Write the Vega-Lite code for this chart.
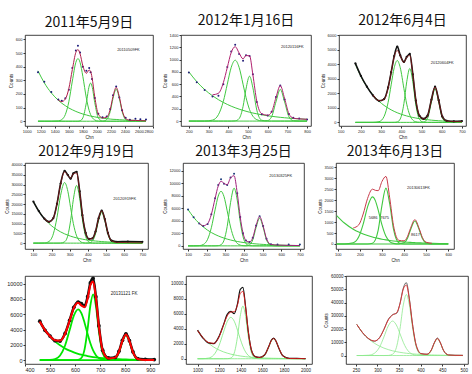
{
"$schema": "https://vega.github.io/schema/vega-lite/v6.json",
"background": "white",
"padding": {"left": 3, "top": 13, "right": 2, "bottom": 0},
"config": {
  "view": {"stroke": "#111", "strokeWidth": 0.8},
  "numberFormat": "d",
  "axis": {"grid": false, "domain": false, "labelFontSize": 4, "titleFontSize": 4.5, "tickSize": 2, "tickColor": "#333", "labelPadding": 1, "titlePadding": 1.5, "labelColor": "#222", "titleColor": "#222", "titleFontWeight": "normal", "labelFont": "Liberation Sans", "titleFont": "Liberation Sans", "labelOverlap": false},
  "title": {"fontSize": 14, "font": "Noto Sans CJK SC", "fontWeight": "normal", "offset": 5, "color": "#111"},
  "text": {"font": "Liberation Sans"}
},
"datasets": {
"p1": [
{"x":1160,"bg":370,"a":0,"b":0,"c":0,"f":null,"o":360},
{"x":1250,"bg":282,"a":0,"b":0,"c":0,"f":null,"o":290},
{"x":1350,"bg":208,"a":0,"b":0,"c":0,"f":null,"o":215},
{"x":1450,"bg":154,"a":2,"b":0,"c":0,"f":156,"o":160},
{"x":1500,"bg":132,"a":12,"b":0,"c":0,"f":144,"o":150},
{"x":1550,"bg":114,"a":49,"b":0,"c":0,"f":163,"o":168},
{"x":1600,"bg":97,"a":143,"b":0,"c":0,"f":240,"o":232},
{"x":1650,"bg":84,"a":295,"b":0,"c":0,"f":379,"o":390},
{"x":1700,"bg":72,"a":432,"b":0,"c":0,"f":505,"o":520},
{"x":1730,"bg":66,"a":460,"b":0,"c":0,"f":526,"o":555},
{"x":1760,"bg":60,"a":432,"b":3,"c":0,"f":495,"o":505},
{"x":1800,"bg":53,"a":328,"b":25,"c":0,"f":406,"o":400},
{"x":1850,"bg":46,"a":170,"b":136,"c":0,"f":352,"o":370},
{"x":1890,"bg":40,"a":78,"b":258,"c":0,"f":376,"o":390},
{"x":1910,"bg":38,"a":49,"b":280,"c":0,"f":367,"o":360},
{"x":1930,"bg":36,"a":29,"b":258,"c":0,"f":323,"o":310},
{"x":1970,"bg":32,"a":9,"b":136,"c":0,"f":177,"o":170},
{"x":2020,"bg":27,"a":1,"b":25,"c":0,"f":53,"o":55},
{"x":2080,"bg":23,"a":0,"b":1,"c":0,"f":24,"o":30},
{"x":2140,"bg":19,"a":0,"b":0,"c":12,"f":31,"o":35},
{"x":2190,"bg":16,"a":0,"b":0,"c":71,"f":87,"o":90},
{"x":2230,"bg":14,"a":0,"b":0,"c":168,"f":182,"o":190},
{"x":2275,"bg":13,"a":0,"b":0,"c":235,"f":248,"o":255},
{"x":2320,"bg":11,"a":0,"b":0,"c":168,"f":179,"o":175},
{"x":2360,"bg":10,"a":0,"b":0,"c":71,"f":81,"o":80},
{"x":2410,"bg":8,"a":0,"b":0,"c":12,"f":20,"o":25},
{"x":2470,"bg":7,"a":0,"b":0,"c":0,"f":7,"o":10},
{"x":2550,"bg":6,"a":0,"b":0,"c":0,"f":6,"o":18},
{"x":2620,"bg":4,"a":0,"b":0,"c":0,"f":4,"o":15},
{"x":2700,"bg":3,"a":0,"b":0,"c":0,"f":3,"o":12}
],
"p2": [
{"x":200,"bg":800,"a":0,"b":0,"c":0,"f":null,"o":790},
{"x":240,"bg":641,"a":0,"b":0,"c":0,"f":null,"o":630},
{"x":280,"bg":513,"a":0,"b":0,"c":0,"f":null,"o":505},
{"x":320,"bg":411,"a":16,"b":0,"c":0,"f":427,"o":400},
{"x":350,"bg":348,"a":104,"b":0,"c":0,"f":452,"o":410},
{"x":375,"bg":303,"a":321,"b":0,"c":0,"f":624,"o":600},
{"x":395,"bg":271,"a":600,"b":0,"c":0,"f":871,"o":880},
{"x":415,"bg":242,"a":874,"b":0,"c":0,"f":1116,"o":1130},
{"x":435,"bg":217,"a":990,"b":3,"c":0,"f":1210,"o":1240},
{"x":455,"bg":194,"a":874,"b":40,"c":0,"f":1108,"o":1090},
{"x":475,"bg":174,"a":600,"b":237,"c":0,"f":1011,"o":980},
{"x":490,"bg":160,"a":385,"b":522,"c":0,"f":1067,"o":1070},
{"x":508,"bg":144,"a":187,"b":730,"c":0,"f":1061,"o":1060},
{"x":525,"bg":131,"a":79,"b":541,"c":0,"f":751,"o":760},
{"x":545,"bg":118,"a":23,"b":177,"c":0,"f":318,"o":310},
{"x":570,"bg":102,"a":3,"b":14,"c":0,"f":119,"o":110},
{"x":600,"bg":87,"a":0,"b":0,"c":8,"f":95,"o":90},
{"x":620,"bg":78,"a":0,"b":0,"c":70,"f":148,"o":150},
{"x":642,"bg":69,"a":0,"b":0,"c":312,"f":381,"o":390},
{"x":664,"bg":61,"a":0,"b":0,"c":515,"f":576,"o":580},
{"x":686,"bg":54,"a":0,"b":0,"c":312,"f":366,"o":350},
{"x":708,"bg":48,"a":0,"b":0,"c":70,"f":118,"o":115},
{"x":730,"bg":42,"a":0,"b":0,"c":6,"f":48,"o":55},
{"x":760,"bg":36,"a":0,"b":0,"c":0,"f":36,"o":40},
{"x":800,"bg":29,"a":0,"b":0,"c":0,"f":29,"o":25}
],
"p3": [
{"x":173,"bg":4000,"a":0,"b":0,"c":0,"f":null,"o":4050},
{"x":200,"bg":3163,"a":0,"b":0,"c":0,"f":null,"o":3200},
{"x":230,"bg":2438,"a":0,"b":0,"c":0,"f":null,"o":2450},
{"x":260,"bg":1876,"a":1,"b":0,"c":0,"f":1877,"o":1850},
{"x":290,"bg":1446,"a":47,"b":0,"c":0,"f":1493,"o":1480},
{"x":315,"bg":1164,"a":407,"b":0,"c":0,"f":1571,"o":1600},
{"x":335,"bg":978,"a":1380,"b":0,"c":0,"f":2358,"o":2400},
{"x":350,"bg":858,"a":2578,"b":0,"c":0,"f":3436,"o":3450},
{"x":365,"bg":753,"a":3751,"b":2,"c":0,"f":4506,"o":4550},
{"x":380,"bg":661,"a":4250,"b":30,"c":0,"f":4941,"o":5200},
{"x":395,"bg":580,"a":3751,"b":234,"c":0,"f":4565,"o":4600},
{"x":413,"bg":496,"a":2320,"b":1294,"c":0,"f":4110,"o":4150},
{"x":427,"bg":439,"a":1246,"b":2793,"c":0,"f":4478,"o":4500},
{"x":442,"bg":386,"a":502,"b":3700,"c":0,"f":4588,"o":4700},
{"x":457,"bg":338,"a":157,"b":2793,"c":0,"f":3288,"o":3300},
{"x":472,"bg":297,"a":38,"b":1201,"c":0,"f":1536,"o":1500},
{"x":490,"bg":254,"a":5,"b":208,"c":0,"f":467,"o":450},
{"x":510,"bg":213,"a":0,"b":11,"c":15,"f":239,"o":240},
{"x":530,"bg":180,"a":0,"b":0,"c":278,"f":458,"o":470},
{"x":549,"bg":152,"a":0,"b":0,"c":1395,"f":1547,"o":1560},
{"x":567,"bg":130,"a":0,"b":0,"c":2300,"f":2430,"o":2450},
{"x":585,"bg":111,"a":0,"b":0,"c":1395,"f":1506,"o":1520},
{"x":603,"bg":95,"a":0,"b":0,"c":311,"f":406,"o":400},
{"x":625,"bg":79,"a":0,"b":0,"c":13,"f":92,"o":110},
{"x":660,"bg":58,"a":0,"b":0,"c":0,"f":58,"o":70},
{"x":700,"bg":41,"a":0,"b":0,"c":0,"f":41,"o":90}
],
"p4": [
{"x":100,"bg":21200,"a":0,"b":0,"c":0,"f":null,"o":21300},
{"x":130,"bg":16330,"a":0,"b":0,"c":0,"f":null,"o":16400},
{"x":160,"bg":12580,"a":68,"b":0,"c":0,"f":12650,"o":12600},
{"x":186,"bg":10030,"a":840,"b":0,"c":0,"f":10870,"o":10900},
{"x":210,"bg":8140,"a":4750,"b":0,"c":0,"f":12890,"o":12800},
{"x":230,"bg":6850,"a":13100,"b":0,"c":0,"f":19950,"o":20100},
{"x":250,"bg":5750,"a":24480,"b":35,"c":0,"f":30265,"o":30500},
{"x":272,"bg":4750,"a":31000,"b":673,"c":0,"f":36423,"o":37000},
{"x":290,"bg":4060,"a":26460,"b":3990,"c":0,"f":34510,"o":34800},
{"x":305,"bg":3570,"a":18200,"b":11480,"c":0,"f":33250,"o":33000},
{"x":320,"bg":3130,"a":10070,"b":22270,"c":0,"f":35470,"o":35700},
{"x":338,"bg":2680,"a":3700,"b":29500,"c":0,"f":35880,"o":36500},
{"x":355,"bg":2310,"a":1080,"b":22950,"c":0,"f":26340,"o":26500},
{"x":370,"bg":2030,"a":285,"b":12130,"c":0,"f":14445,"o":14300},
{"x":388,"bg":1730,"a":47,"b":3370,"c":0,"f":5147,"o":5200},
{"x":406,"bg":1480,"a":0,"b":531,"c":100,"f":2111,"o":2200},
{"x":425,"bg":1260,"a":0,"b":45,"c":1070,"f":2375,"o":2400},
{"x":442,"bg":1080,"a":0,"b":0,"c":4760,"f":5840,"o":5900},
{"x":459,"bg":935,"a":0,"b":0,"c":11650,"f":12585,"o":12700},
{"x":476,"bg":805,"a":0,"b":0,"c":15700,"f":16505,"o":16700},
{"x":493,"bg":695,"a":0,"b":0,"c":11650,"f":12345,"o":12300},
{"x":510,"bg":600,"a":0,"b":0,"c":4760,"f":5360,"o":5300},
{"x":530,"bg":500,"a":0,"b":0,"c":776,"f":1276,"o":1300},
{"x":560,"bg":390,"a":0,"b":0,"c":0,"f":390,"o":700},
{"x":620,"bg":230,"a":0,"b":0,"c":0,"f":230,"o":800},
{"x":700,"bg":115,"a":0,"b":0,"c":0,"f":115,"o":700}
],
"p5": [
{"x":100,"bg":5780,"a":0,"b":0,"c":0,"f":null,"o":5800},
{"x":130,"bg":4547,"a":0,"b":0,"c":0,"f":null,"o":4550},
{"x":160,"bg":3576,"a":33,"b":0,"c":0,"f":3609,"o":3550},
{"x":182,"bg":3000,"a":218,"b":0,"c":0,"f":3218,"o":3150},
{"x":205,"bg":2495,"a":1048,"b":0,"c":0,"f":3543,"o":3500},
{"x":225,"bg":2126,"a":2885,"b":0,"c":0,"f":5011,"o":5050},
{"x":245,"bg":1812,"a":5727,"b":0,"c":0,"f":7539,"o":7600},
{"x":262,"bg":1581,"a":7937,"b":28,"c":0,"f":9546,"o":9700},
{"x":277,"bg":1403,"a":8700,"b":182,"c":0,"f":10285,"o":10600},
{"x":293,"bg":1234,"a":7837,"b":893,"c":0,"f":9964,"o":9900},
{"x":310,"bg":1077,"a":5580,"b":3074,"c":0,"f":9731,"o":9700},
{"x":328,"bg":933,"a":3008,"b":6884,"c":0,"f":10825,"o":10900},
{"x":347,"bg":801,"a":1177,"b":9190,"c":0,"f":11168,"o":11500},
{"x":364,"bg":699,"a":396,"b":7293,"c":0,"f":8388,"o":8400},
{"x":380,"bg":615,"a":115,"b":3846,"c":0,"f":4576,"o":4600},
{"x":395,"bg":546,"a":30,"b":1455,"c":0,"f":2031,"o":2000},
{"x":411,"bg":480,"a":0,"b":346,"c":10,"f":836,"o":850},
{"x":430,"bg":413,"a":0,"b":37,"c":161,"f":611,"o":620},
{"x":447,"bg":360,"a":0,"b":0,"c":932,"f":1292,"o":1300},
{"x":465,"bg":312,"a":0,"b":0,"c":2923,"f":3235,"o":3250},
{"x":484,"bg":268,"a":0,"b":0,"c":4400,"f":4668,"o":4700},
{"x":503,"bg":230,"a":0,"b":0,"c":2923,"f":3153,"o":3150},
{"x":521,"bg":199,"a":0,"b":0,"c":932,"f":1131,"o":1150},
{"x":545,"bg":164,"a":0,"b":0,"c":65,"f":229,"o":260},
{"x":580,"bg":124,"a":0,"b":0,"c":0,"f":124,"o":220},
{"x":640,"bg":77,"a":0,"b":0,"c":0,"f":77,"o":210},
{"x":700,"bg":47,"a":0,"b":0,"c":0,"f":47,"o":200}
],
"p6": [
{"x":95,"bg":1300,"a":0,"b":0,"c":0,"f":null},
{"x":130,"bg":959,"a":0,"b":0,"c":0,"f":null},
{"x":170,"bg":677,"a":53,"b":0,"c":0,"f":730},
{"x":195,"bg":545,"a":329,"b":0,"c":0,"f":874},
{"x":215,"bg":458,"a":910,"b":0,"c":0,"f":1368},
{"x":235,"bg":385,"a":1698,"b":1,"c":0,"f":2084},
{"x":257,"bg":318,"a":2150,"b":37,"c":0,"f":2505},
{"x":270,"bg":284,"a":1980,"b":187,"c":0,"f":2451},
{"x":283,"bg":254,"a":1546,"b":635,"c":0,"f":2435},
{"x":300,"bg":218,"a":871,"b":1767,"c":0,"f":2856},
{"x":318,"bg":187,"a":349,"b":2550,"c":0,"f":3086},
{"x":335,"bg":161,"a":110,"b":1837,"c":0,"f":2108},
{"x":352,"bg":139,"a":26,"b":688,"c":0,"f":853},
{"x":377,"bg":112,"a":0,"b":49,"c":2,"f":163},
{"x":400,"bg":92,"a":0,"b":0,"c":52,"f":144},
{"x":415,"bg":80,"a":0,"b":0,"c":248,"f":328},
{"x":429,"bg":71,"a":0,"b":0,"c":637,"f":708},
{"x":449,"bg":60,"a":0,"b":0,"c":1050,"f":1110},
{"x":469,"bg":50,"a":0,"b":0,"c":637,"f":687},
{"x":483,"bg":45,"a":0,"b":0,"c":248,"f":293},
{"x":500,"bg":38,"a":0,"b":0,"c":41,"f":79},
{"x":526,"bg":31,"a":0,"b":0,"c":0,"f":31},
{"x":560,"bg":23,"a":0,"b":0,"c":0,"f":null},
{"x":600,"bg":16,"a":0,"b":0,"c":0,"f":null}
],
"p7": [
{"x":459,"bg":5040,"a":0,"b":0,"c":0,"f":5040,"o":5100},
{"x":480,"bg":3937,"a":0,"b":0,"c":0,"f":3937,"o":3900},
{"x":500,"bg":3112,"a":21,"b":0,"c":0,"f":3133,"o":3150},
{"x":520,"bg":2458,"a":136,"b":0,"c":0,"f":2594,"o":2550},
{"x":540,"bg":1943,"a":615,"b":0,"c":0,"f":2558,"o":2500},
{"x":560,"bg":1536,"a":1917,"b":0,"c":0,"f":3453,"o":3500},
{"x":578,"bg":1243,"a":3905,"b":0,"c":0,"f":5148,"o":5200},
{"x":595,"bg":1018,"a":5815,"b":0,"c":0,"f":6833,"o":6900},
{"x":612,"bg":833,"a":6640,"b":33,"c":0,"f":7506,"o":7600},
{"x":625,"bg":715,"a":6144,"b":284,"c":0,"f":7143,"o":7400},
{"x":638,"bg":614,"a":4869,"b":1446,"c":0,"f":6929,"o":7100},
{"x":650,"bg":533,"a":3422,"b":4080,"c":0,"f":8035,"o":8300},
{"x":661,"bg":468,"a":2205,"b":7146,"c":0,"f":9819,"o":10100},
{"x":672,"bg":411,"a":1270,"b":8610,"c":0,"f":10291,"o":10700},
{"x":683,"bg":361,"a":655,"b":7146,"c":0,"f":8162,"o":8300},
{"x":695,"bg":314,"a":281,"b":3806,"c":0,"f":4401,"o":4500},
{"x":710,"bg":263,"a":81,"b":929,"c":0,"f":1273,"o":1300},
{"x":733,"bg":201,"a":0,"b":28,"c":0,"f":229,"o":300},
{"x":760,"bg":146,"a":0,"b":0,"c":189,"f":335,"o":350},
{"x":775,"bg":122,"a":0,"b":0,"c":978,"f":1100,"o":1150},
{"x":789,"bg":104,"a":0,"b":0,"c":2425,"f":2529,"o":2600},
{"x":803,"bg":88,"a":0,"b":0,"c":3280,"f":3368,"o":3450},
{"x":817,"bg":75,"a":0,"b":0,"c":2425,"f":2500,"o":2550},
{"x":831,"bg":63,"a":0,"b":0,"c":978,"f":1041,"o":1100},
{"x":850,"bg":51,"a":0,"b":0,"c":108,"f":159,"o":200},
{"x":880,"bg":36,"a":0,"b":0,"c":0,"f":36,"o":120},
{"x":916,"bg":23,"a":0,"b":0,"c":0,"f":23,"o":80}
],
"p8": [
{"x":1000,"bg":3750,"a":0,"b":0,"c":0,"f":3750,"o":3800},
{"x":1050,"bg":2795,"a":9,"b":0,"c":0,"f":2804,"o":2750},
{"x":1100,"bg":2083,"a":85,"b":0,"c":0,"f":2168,"o":2100},
{"x":1150,"bg":1552,"a":499,"b":0,"c":0,"f":2051,"o":2000},
{"x":1200,"bg":1157,"a":1786,"b":0,"c":0,"f":2943,"o":3000},
{"x":1240,"bg":914,"a":3522,"b":0,"c":0,"f":4436,"o":4500},
{"x":1275,"bg":744,"a":4950,"b":5,"c":0,"f":5699,"o":5900},
{"x":1308,"bg":612,"a":5500,"b":91,"c":0,"f":6203,"o":6300},
{"x":1340,"bg":507,"a":4983,"b":763,"c":0,"f":6253,"o":6000},
{"x":1370,"bg":426,"a":3796,"b":2943,"c":0,"f":7165,"o":7300},
{"x":1395,"bg":367,"a":2651,"b":5637,"c":0,"f":8655,"o":9200},
{"x":1420,"bg":317,"a":1640,"b":7000,"c":0,"f":8957,"o":9500},
{"x":1445,"bg":274,"a":900,"b":5637,"c":0,"f":6811,"o":6900},
{"x":1470,"bg":236,"a":438,"b":2943,"c":0,"f":3617,"o":3600},
{"x":1500,"bg":198,"a":157,"b":763,"c":0,"f":1118,"o":1100},
{"x":1535,"bg":161,"a":38,"b":72,"c":0,"f":271,"o":280},
{"x":1573,"bg":129,"a":6,"b":0,"c":25,"f":160,"o":170},
{"x":1620,"bg":98,"a":0,"b":0,"c":390,"f":488,"o":500},
{"x":1660,"bg":77,"a":0,"b":0,"c":1558,"f":1635,"o":1650},
{"x":1683,"bg":67,"a":0,"b":0,"c":2335,"f":2402,"o":2450},
{"x":1704,"bg":60,"a":0,"b":0,"c":2630,"f":2690,"o":2750},
{"x":1725,"bg":53,"a":0,"b":0,"c":2335,"f":2388,"o":2400},
{"x":1750,"bg":46,"a":0,"b":0,"c":1484,"f":1530,"o":1500},
{"x":1790,"bg":36,"a":0,"b":0,"c":356,"f":392,"o":400},
{"x":1850,"bg":25,"a":0,"b":0,"c":8,"f":33,"o":60},
{"x":1920,"bg":17,"a":0,"b":0,"c":0,"f":17,"o":40},
{"x":2000,"bg":10,"a":0,"b":0,"c":0,"f":10,"o":20}
],
"p9": [
{"x":252,"bg":23470,"a":0,"b":0,"c":0,"f":23470,"o":23500},
{"x":265,"bg":17470,"a":0,"b":0,"c":0,"f":17470,"o":17300},
{"x":280,"bg":12420,"a":243,"b":0,"c":0,"f":12663,"o":12500},
{"x":293,"bg":9240,"a":1716,"b":0,"c":0,"f":10956,"o":10800},
{"x":305,"bg":7030,"a":6474,"b":0,"c":0,"f":13504,"o":13600},
{"x":315,"bg":5610,"a":14020,"b":0,"c":0,"f":19630,"o":19800},
{"x":325,"bg":4460,"a":22280,"b":58,"c":0,"f":26798,"o":27200},
{"x":335,"bg":3560,"a":26000,"b":960,"c":0,"f":30520,"o":30800},
{"x":345,"bg":2835,"a":22280,"b":7370,"c":0,"f":32485,"o":32000},
{"x":352,"bg":2420,"a":16650,"b":19650,"c":0,"f":38720,"o":39000},
{"x":360,"bg":2015,"a":9910,"b":38220,"c":0,"f":50145,"o":51000},
{"x":367,"bg":1720,"a":5360,"b":46000,"c":0,"f":53080,"o":55000},
{"x":374,"bg":1467,"a":2483,"b":38220,"c":0,"f":42170,"o":43000},
{"x":381,"bg":1251,"a":990,"b":21930,"c":0,"f":24171,"o":24500},
{"x":390,"bg":1020,"a":243,"b":6224,"c":0,"f":7487,"o":7600},
{"x":401,"bg":795,"a":32,"b":584,"c":0,"f":1411,"o":1500},
{"x":415,"bg":577,"a":0,"b":0,"c":356,"f":933,"o":1000},
{"x":425,"bg":460,"a":0,"b":0,"c":3725,"f":4185,"o":4300},
{"x":432,"bg":392,"a":0,"b":0,"c":9240,"f":9632,"o":9800},
{"x":439,"bg":335,"a":0,"b":0,"c":12500,"f":12835,"o":13200},
{"x":446,"bg":286,"a":0,"b":0,"c":9240,"f":9526,"o":9600},
{"x":453,"bg":244,"a":0,"b":0,"c":3725,"f":3969,"o":4000},
{"x":465,"bg":186,"a":0,"b":0,"c":193,"f":379,"o":450},
{"x":480,"bg":132,"a":0,"b":0,"c":0,"f":132,"o":200},
{"x":498,"bg":87,"a":0,"b":0,"c":0,"f":87,"o":150}
]
},
"spacing": 9,
"vconcat": [
{"spacing": 4, "vconcat": [
{"spacing": 8, "hconcat": [
{"width": 128, "height": 91, "title": "2011年5月9日", "data": {"name": "p1"},
 "encoding": {"x": {"field": "x", "type": "quantitative", "title": "Chn", "scale": {"domain": [975, 2800], "nice": false, "zero": false}, "axis": {"values": [1000,1200,1400,1600,1800,2000,2200,2400,2600,2800]}}},
 "layer": [
  {"transform": [{"fold": ["bg","a","b","c"], "as": ["k","v"]}], "mark": {"type": "line", "color": "#40c840", "strokeWidth": 1, "interpolate": "monotone"},
   "encoding": {"y": {"field": "v", "type": "quantitative", "title": "Counts", "scale": {"domain": [-35, 633], "nice": false, "zero": false}, "axis": {"values": [0,100,200,300,400,500,600]}}, "detail": {"field": "k"}}},
  {"mark": {"type": "point", "filled": true, "size": 4, "opacity": 1, "color": "#1a1a7a"}, "encoding": {"y": {"field": "o", "type": "quantitative", "title": "Counts", "axis": {"values": [0,100,200,300,400,500,600]}}}},
  {"mark": {"type": "line", "color": "#b01e4a", "strokeWidth": 1, "interpolate": "monotone"}, "encoding": {"y": {"field": "f", "type": "quantitative", "title": "Counts", "axis": {"values": [0,100,200,300,400,500,600]}}}},
  {"data": {"values": [{"t": "20110509FK", "px": 2450, "py": 520}]}, "mark": {"type": "text", "fontSize": 4, "color": "#222"},
   "encoding": {"x": {"field": "px", "type": "quantitative", "title": "Chn", "axis": {"values": [1000,1200,1400,1600,1800,2000,2200,2400,2600,2800]}}, "y": {"field": "py", "type": "quantitative", "title": "Counts", "axis": {"values": [0,100,200,300,400,500,600]}}, "text": {"field": "t"}}}
 ]},
{"width": 130, "height": 91, "title": "2012年1月16日", "data": {"name": "p2"},
 "encoding": {"x": {"field": "x", "type": "quantitative", "title": "Chn", "scale": {"domain": [160, 820], "nice": false, "zero": false}, "axis": {"values": [200,300,400,500,600,700,800]}}},
 "layer": [
  {"transform": [{"fold": ["bg","a","b","c"], "as": ["k","v"]}], "mark": {"type": "line", "color": "#40c840", "strokeWidth": 1, "interpolate": "monotone"},
   "encoding": {"y": {"field": "v", "type": "quantitative", "title": "Counts", "scale": {"domain": [-80, 1400], "nice": false, "zero": false}, "axis": {"values": [0,200,400,600,800,1000,1200,1400]}}, "detail": {"field": "k"}}},
  {"mark": {"type": "point", "filled": true, "size": 4, "opacity": 1, "color": "#25207a"}, "encoding": {"y": {"field": "o", "type": "quantitative", "title": "Counts", "axis": {"values": [0,200,400,600,800,1000,1200,1400]}}}},
  {"mark": {"type": "line", "color": "#b0206e", "strokeWidth": 1, "interpolate": "monotone"}, "encoding": {"y": {"field": "f", "type": "quantitative", "title": "Counts", "axis": {"values": [0,200,400,600,800,1000,1200,1400]}}}},
  {"data": {"values": [{"t": "20120116FK", "px": 725, "py": 1200}]}, "mark": {"type": "text", "fontSize": 4, "color": "#222"},
   "encoding": {"x": {"field": "px", "type": "quantitative", "title": "Chn", "axis": {"values": [200,300,400,500,600,700,800]}}, "y": {"field": "py", "type": "quantitative", "title": "Counts", "axis": {"values": [0,200,400,600,800,1000,1200,1400]}}, "text": {"field": "t"}}}
 ]},
{"width": 127, "height": 91, "title": "2012年6月4日", "data": {"name": "p3"},
 "encoding": {"x": {"field": "x", "type": "quantitative", "title": "Chn", "scale": {"domain": [92, 720], "nice": false, "zero": false}, "axis": {"values": [100,200,300,400,500,600,700]}}},
 "layer": [
  {"transform": [{"fold": ["bg","a","b","c"], "as": ["k","v"]}], "mark": {"type": "line", "color": "#40c840", "strokeWidth": 1, "interpolate": "monotone"},
   "encoding": {"y": {"field": "v", "type": "quantitative", "title": "Counts", "scale": {"domain": [-250, 6000], "nice": false, "zero": false}, "axis": {"values": [0,1000,2000,3000,4000,5000,6000]}}, "detail": {"field": "k"}}},
  {"mark": {"type": "line", "color": "#111", "strokeWidth": 1.6, "interpolate": "monotone"}, "encoding": {"y": {"field": "o", "type": "quantitative", "title": "Counts", "axis": {"values": [0,1000,2000,3000,4000,5000,6000]}}}},
  {"mark": {"type": "point", "filled": true, "size": 5, "opacity": 1, "color": "#111"}, "encoding": {"y": {"field": "o", "type": "quantitative", "title": "Counts", "axis": {"values": [0,1000,2000,3000,4000,5000,6000]}}}},
  {"mark": {"type": "line", "color": "#8b1a1a", "strokeWidth": 0.8, "interpolate": "monotone"}, "encoding": {"y": {"field": "f", "type": "quantitative", "title": "Counts", "axis": {"values": [0,1000,2000,3000,4000,5000,6000]}}}},
  {"data": {"values": [{"t": "20120604FK", "px": 602, "py": 4050}]}, "mark": {"type": "text", "fontSize": 4, "color": "#222"},
   "encoding": {"x": {"field": "px", "type": "quantitative", "title": "Chn", "axis": {"values": [100,200,300,400,500,600,700]}}, "y": {"field": "py", "type": "quantitative", "title": "Counts", "axis": {"values": [0,1000,2000,3000,4000,5000,6000]}}, "text": {"field": "t"}}}
 ]}
]},
{"spacing": 12, "hconcat": [
{"width": 123, "height": 86, "title": {"text": "2012年9月19日", "offset": 4}, "data": {"name": "p4"},
 "encoding": {"x": {"field": "x", "type": "quantitative", "title": "Chn", "scale": {"domain": [54, 731], "nice": false, "zero": false}, "axis": {"values": [100,200,300,400,500,600,700]}}},
 "layer": [
  {"transform": [{"fold": ["bg","a","b","c"], "as": ["k","v"]}], "mark": {"type": "line", "color": "#40c840", "strokeWidth": 1, "interpolate": "monotone"},
   "encoding": {"y": {"field": "v", "type": "quantitative", "title": "Counts", "scale": {"domain": [-3000, 41000], "nice": false, "zero": false}, "axis": {"values": [0,5000,10000,15000,20000,25000,30000,35000,40000]}}, "detail": {"field": "k"}}},
  {"mark": {"type": "line", "color": "#111", "strokeWidth": 1.6, "interpolate": "monotone"}, "encoding": {"y": {"field": "o", "type": "quantitative", "title": "Counts", "axis": {"values": [0,5000,10000,15000,20000,25000,30000,35000,40000]}}}},
  {"mark": {"type": "point", "filled": true, "size": 5, "opacity": 1, "color": "#111"}, "encoding": {"y": {"field": "o", "type": "quantitative", "title": "Counts", "axis": {"values": [0,5000,10000,15000,20000,25000,30000,35000,40000]}}}},
  {"mark": {"type": "line", "color": "#8b1a1a", "strokeWidth": 0.8, "interpolate": "monotone"}, "encoding": {"y": {"field": "f", "type": "quantitative", "title": "Counts", "axis": {"values": [0,5000,10000,15000,20000,25000,30000,35000,40000]}}}},
  {"data": {"values": [{"t": "20120919FK", "px": 603, "py": 22800}]}, "mark": {"type": "text", "fontSize": 4, "color": "#222"},
   "encoding": {"x": {"field": "px", "type": "quantitative", "title": "Chn", "axis": {"values": [100,200,300,400,500,600,700]}}, "y": {"field": "py", "type": "quantitative", "title": "Counts", "axis": {"values": [0,5000,10000,15000,20000,25000,30000,35000,40000]}}, "text": {"field": "t"}}}
 ]},
{"width": 121, "height": 86, "title": {"text": "2013年3月25日", "offset": 4}, "data": {"name": "p5"},
 "encoding": {"x": {"field": "x", "type": "quantitative", "title": "Chn", "scale": {"domain": [73, 722], "nice": false, "zero": false}, "axis": {"values": [100,200,300,400,500,600,700]}}},
 "layer": [
  {"transform": [{"fold": ["bg","a","b","c"], "as": ["k","v"]}], "mark": {"type": "line", "color": "#40c840", "strokeWidth": 1, "interpolate": "monotone"},
   "encoding": {"y": {"field": "v", "type": "quantitative", "title": "Counts", "scale": {"domain": [-500, 13200], "nice": false, "zero": false}, "axis": {"values": [0,2000,4000,6000,8000,10000,12000]}}, "detail": {"field": "k"}}},
  {"mark": {"type": "point", "filled": true, "size": 4, "opacity": 1, "color": "#1a3a7a"}, "encoding": {"y": {"field": "o", "type": "quantitative", "title": "Counts", "axis": {"values": [0,2000,4000,6000,8000,10000,12000]}}}},
  {"mark": {"type": "line", "color": "#a0207a", "strokeWidth": 1, "interpolate": "monotone"}, "encoding": {"y": {"field": "f", "type": "quantitative", "title": "Counts", "axis": {"values": [0,2000,4000,6000,8000,10000,12000]}}}},
  {"data": {"values": [{"t": "20130325FK", "px": 597, "py": 11190}]}, "mark": {"type": "text", "fontSize": 4, "color": "#222"},
   "encoding": {"x": {"field": "px", "type": "quantitative", "title": "Chn", "axis": {"values": [100,200,300,400,500,600,700]}}, "y": {"field": "py", "type": "quantitative", "title": "Counts", "axis": {"values": [0,2000,4000,6000,8000,10000,12000]}}, "text": {"field": "t"}}}
 ]},
{"width": 118, "height": 86, "title": {"text": "2013年6月13日", "offset": 4}, "data": {"name": "p6"},
 "encoding": {"x": {"field": "x", "type": "quantitative", "title": "Chn", "scale": {"domain": [92, 626], "nice": false, "zero": false}, "axis": {"values": [100,200,300,400,500,600]}}},
 "layer": [
  {"transform": [{"fold": ["bg","a","b","c"], "as": ["k","v"]}], "mark": {"type": "line", "color": "#40c840", "strokeWidth": 1.1, "interpolate": "monotone"},
   "encoding": {"y": {"field": "v", "type": "quantitative", "title": "Counts", "scale": {"domain": [-230, 3700], "nice": false, "zero": false}, "axis": {"values": [0,500,1000,1500,2000,2500,3000,3500]}}, "detail": {"field": "k"}}},
  {"mark": {"type": "line", "color": "#c83a4a", "strokeWidth": 1, "interpolate": "monotone"}, "encoding": {"y": {"field": "f", "type": "quantitative", "title": "Counts", "axis": {"values": [0,500,1000,1500,2000,2500,3000,3500]}}}},
  {"data": {"values": [{"t": "20130613FK", "px": 465, "py": 2550}, {"t": "5686", "px": 260, "py": 1200}, {"t": "7675", "px": 312, "py": 1200}, {"t": "8617", "px": 452, "py": 400}]},
   "mark": {"type": "text", "fontSize": 4, "color": "#222"},
   "encoding": {"x": {"field": "px", "type": "quantitative", "title": "Chn", "axis": {"values": [100,200,300,400,500,600]}}, "y": {"field": "py", "type": "quantitative", "title": "Counts", "axis": {"values": [0,500,1000,1500,2000,2500,3000,3500]}}, "text": {"field": "t"}}}
 ]}
]}
]},
{"spacing": 10, "hconcat": [
{"width": 134, "height": 88, "data": {"name": "p7"},
 "encoding": {"x": {"field": "x", "type": "quantitative", "title": null, "scale": {"domain": [400, 935], "nice": false, "zero": false}, "axis": {"values": [400,500,600,700,800,900], "labelFontSize": 5.5}}},
 "layer": [
  {"transform": [{"fold": ["bg","a","b","c"], "as": ["k","v"]}], "mark": {"type": "line", "color": "#00e600", "strokeWidth": 1.8, "interpolate": "monotone"},
   "encoding": {"y": {"field": "v", "type": "quantitative", "title": null, "scale": {"domain": [-500, 11000], "nice": false, "zero": false}, "axis": {"values": [0,2000,4000,6000,8000,10000], "labelFontSize": 5.5}}, "detail": {"field": "k"}}},
  {"mark": {"type": "line", "color": "#111", "strokeWidth": 2.5, "interpolate": "monotone"}, "encoding": {"y": {"field": "o", "type": "quantitative", "title": null, "axis": {"values": [0,2000,4000,6000,8000,10000], "labelFontSize": 5.5}}}},
  {"mark": {"type": "point", "filled": true, "size": 14, "opacity": 1, "color": "#111"}, "encoding": {"y": {"field": "o", "type": "quantitative", "title": null, "axis": {"values": [0,2000,4000,6000,8000,10000], "labelFontSize": 5.5}}}},
  {"mark": {"type": "line", "color": "#ff0000", "strokeWidth": 2, "interpolate": "monotone"}, "encoding": {"y": {"field": "f", "type": "quantitative", "title": null, "axis": {"values": [0,2000,4000,6000,8000,10000], "labelFontSize": 5.5}}}},
  {"data": {"values": [{"t": "20131121 FK", "px": 796, "py": 8700}]}, "mark": {"type": "text", "fontSize": 4.5, "color": "#222"},
   "encoding": {"x": {"field": "px", "type": "quantitative", "title": null, "axis": {"values": [400,500,600,700,800,900], "labelFontSize": 5.5}}, "y": {"field": "py", "type": "quantitative", "title": null, "axis": {"values": [0,2000,4000,6000,8000,10000], "labelFontSize": 5.5}}, "text": {"field": "t"}}}
 ]},
{"width": 126, "height": 88, "data": {"name": "p8"},
 "encoding": {"x": {"field": "x", "type": "quantitative", "title": null, "scale": {"domain": [893, 2060], "nice": false, "zero": false}, "axis": {"values": [1000,1200,1400,1600,1800,2000], "labelFontSize": 4.5}}},
 "layer": [
  {"transform": [{"fold": ["bg","a","b","c"], "as": ["k","v"]}], "mark": {"type": "line", "color": "#7de87d", "strokeWidth": 0.8, "interpolate": "monotone"},
   "encoding": {"y": {"field": "v", "type": "quantitative", "title": null, "scale": {"domain": [-700, 11000], "nice": false, "zero": false}, "axis": {"values": [0,2000,4000,6000,8000,10000], "labelFontSize": 4.5}}, "detail": {"field": "k"}}},
  {"mark": {"type": "line", "color": "#111", "strokeWidth": 1.2, "interpolate": "monotone"}, "encoding": {"y": {"field": "o", "type": "quantitative", "title": null, "axis": {"values": [0,2000,4000,6000,8000,10000], "labelFontSize": 4.5}}}},
  {"mark": {"type": "line", "color": "#e01818", "strokeWidth": 0.9, "interpolate": "monotone"}, "encoding": {"y": {"field": "f", "type": "quantitative", "title": null, "axis": {"values": [0,2000,4000,6000,8000,10000], "labelFontSize": 4.5}}}}
 ]},
{"width": 122, "height": 88, "data": {"name": "p9"},
 "encoding": {"x": {"field": "x", "type": "quantitative", "title": null, "scale": {"domain": [227, 510], "nice": false, "zero": false}, "axis": {"values": [250,300,350,400,450,500], "labelFontSize": 4.5}}},
 "layer": [
  {"transform": [{"fold": ["bg","a","b","c"], "as": ["k","v"]}], "mark": {"type": "line", "color": "#8ee88e", "strokeWidth": 0.8, "interpolate": "monotone"},
   "encoding": {"y": {"field": "v", "type": "quantitative", "title": "Counts", "scale": {"domain": [-6400, 60000], "nice": false, "zero": false}, "axis": {"values": [0,10000,20000,30000,40000,50000,60000], "labelFontSize": 4.5}}, "detail": {"field": "k"}}},
  {"mark": {"type": "line", "color": "#444", "strokeWidth": 0.8, "interpolate": "monotone"}, "encoding": {"y": {"field": "o", "type": "quantitative", "title": "Counts", "axis": {"values": [0,10000,20000,30000,40000,50000,60000], "labelFontSize": 4.5}}}},
  {"mark": {"type": "line", "color": "#e03030", "strokeWidth": 0.9, "interpolate": "monotone"}, "encoding": {"y": {"field": "f", "type": "quantitative", "title": "Counts", "axis": {"values": [0,10000,20000,30000,40000,50000,60000], "labelFontSize": 4.5}}}}
 ]}
]}
]
}
